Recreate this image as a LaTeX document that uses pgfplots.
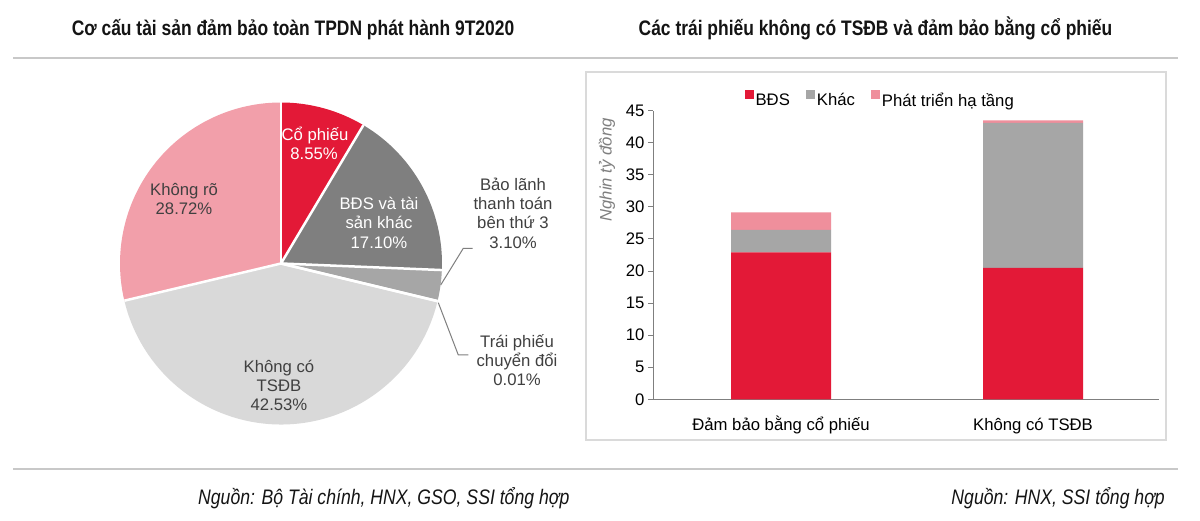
\documentclass[border=0pt]{standalone}
\usepackage{fontspec}
\setmainfont{Liberation Sans}
\newfontfamily\titlefont[FakeStretch=0.83]{Liberation Sans}
\newfontfamily\srcfont[FakeStretch=0.84]{Liberation Sans}
\usepackage{pgfplots}
\usepackage{pgfplotstable}
\pgfplotsset{compat=1.18}
\definecolor{cRed}{HTML}{E31937}
\definecolor{cDark}{HTML}{7F7F7F}
\definecolor{cMid}{HTML}{A6A6A6}
\definecolor{cLight}{HTML}{D9D9D9}
\definecolor{cPink}{HTML}{F29FAA}
\definecolor{cPinkBar}{HTML}{EF8F9C}
\definecolor{cGrayBar}{HTML}{A6A6A6}
\definecolor{cText}{HTML}{404040}
\definecolor{cTitle}{HTML}{141414}
\definecolor{cRule}{HTML}{C8C8C8}
\definecolor{cBox}{HTML}{DADADA}
\definecolor{cAxis}{HTML}{7F7F7F}
\newcommand\lf{\fontsize{16.7bp}{20bp}\selectfont}
\pgfplotsset{sqlegend/.style={legend image code/.code={\fill[##1] (0bp,1.5bp) rectangle (9bp,10.5bp);}}}

\pgfplotstableread{
value color
8.55 cRed
17.10 cDark
3.10 cMid
0.01 cMid
42.53 cLight
28.72 cPink
}\piedata

\pgfplotstableread{
x bds khac pt
0 22.9 3.5 2.75
1 20.5 22.6 0.4
}\bardata

\begin{document}
\begin{tikzpicture}[x=1bp,y=1bp]
\fill[white] (0,0) rectangle (1200,521);
\path[use as bounding box] (0,0) rectangle (1200,521);

% titles
\node[anchor=base, inner sep=0, text=cTitle, font=\titlefont\bfseries\fontsize{21bp}{24bp}\selectfont] at (293,485) {Cơ cấu tài sản đảm bảo toàn TPDN phát hành 9T2020};
\node[anchor=base, inner sep=0, text=cTitle, font=\titlefont\bfseries\fontsize{21bp}{24bp}\selectfont] at (875.5,485) {Các trái phiếu không có TSĐB và đảm bảo bằng cổ phiếu};
\draw[cRule, line width=2bp] (13,463.3) -- (1178,463.3);
\draw[cRule, line width=2bp] (13,52) -- (1178,52);
\node[anchor=base west, inner sep=0, text=cTitle, font=\srcfont\itshape\fontsize{21bp}{24bp}\selectfont] at (198,16) {Nguồn: Bộ Tài chính, HNX, GSO, SSI tổng hợp};
\node[anchor=base east, inner sep=0, text=cTitle, font=\srcfont\itshape\fontsize{21bp}{24bp}\selectfont] at (1165,16) {Nguồn: HNX, SSI tổng hợp};

% box of bar chart
\draw[cBox, line width=1.5bp] (586,449) rectangle (1166,81);

% pie
\begin{axis}[at={(281bp,257.5bp)}, anchor=center, scale only axis, width=322bp, height=322bp,
  xmin=-1, xmax=1, ymin=-1, ymax=1, hide axis, clip=false]
\def\angacc{90}
\pgfplotsforeachungrouped \i in {0,...,5}{%
  \pgfplotstablegetelem{\i}{value}\of\piedata
  \let\val\pgfplotsretval
  \pgfplotstablegetelem{\i}{color}\of\piedata
  \let\col\pgfplotsretval
  \pgfmathsetmacro\aend{\angacc-3.6*\val}
  \pgfmathsetmacro\xs{cos(\angacc)}
  \pgfmathsetmacro\ys{sin(\angacc)}
  \edef\temp{\noexpand\fill[\col] (axis cs:0,0) -- (axis cs:\xs,\ys) arc[start angle=\angacc, end angle=\aend, radius=161bp] -- cycle;}%
  \temp
  \let\angacc\aend
}
\def\angacc{90}
\pgfplotsforeachungrouped \i in {0,...,5}{%
  \pgfplotstablegetelem{\i}{value}\of\piedata
  \let\val\pgfplotsretval
  \pgfmathsetmacro\xs{cos(\angacc)}
  \pgfmathsetmacro\ys{sin(\angacc)}
  \edef\temp{\noexpand\draw[white, line width=2.5bp] (axis cs:0,0) -- (axis cs:\xs,\ys);}%
  \temp
  \pgfmathsetmacro\aend{\angacc-3.6*\val}
  \let\angacc\aend
}
\end{axis}

% pie labels
\begin{scope}[every node/.style={anchor=base, inner sep=0, font=\lf}]
\node[text=white] at (315,380) {Cổ phiếu};
\node[text=white] at (314,361) {8.55\%};
\node[text=white] at (379,311) {BĐS và tài};
\node[text=white] at (379,292) {sản khác};
\node[text=white] at (379,272) {17.10\%};
\node[text=cText] at (513,330) {Bảo lãnh};
\node[text=cText] at (513,311) {thanh toán};
\node[text=cText] at (513,292) {bên thứ 3};
\node[text=cText] at (513,272) {3.10\%};
\node[text=cText] at (517,173) {Trái phiếu};
\node[text=cText] at (517,154) {chuyển đổi};
\node[text=cText] at (517,135) {0.01\%};
\node[text=cText] at (184,325) {Không rõ};
\node[text=cText] at (184,306) {28.72\%};
\node[text=cText] at (279,148) {Không có};
\node[text=cText] at (279,129) {TSĐB};
\node[text=cText] at (279,110) {42.53\%};
\end{scope}
\draw[cAxis, line width=1bp] (440.7,236) -- (463.3,272.7) -- (472.7,272.7);
\draw[cAxis, line width=1bp] (438.3,218.3) -- (458.3,166) -- (468.3,166);

% bar chart
\begin{axis}[at={(653bp,121.7bp)}, anchor=south west, scale only axis,
  width=506bp, height=288.6bp,
  ybar stacked, bar width=100bp,
  xmin=-0.508, xmax=1.5, ymin=0, ymax=45,
  xtick={0,1}, xticklabels={Đảm bảo bằng cổ phiếu, Không có TSĐB},
  ytick={0,5,...,45},
  axis x line*=bottom, axis y line*=left,
  axis line style={-, draw=cAxis, line width=1bp},
  x tick style={draw=none},
  y tick style={draw=cAxis, line width=1bp},
  tick align=outside, major tick length=5bp,
  /pgf/number format/assume math mode=true,
  ticklabel style={font=\lf, text=black},
  xticklabel style={anchor=base, yshift=-26.4bp},
  yticklabel style={anchor=east},
  ylabel={Nghin tỷ đồng},
  ylabel style={at={(axis description cs:-0.091,0.795)}, anchor=center, font=\lf\itshape, text=cAxis},
  legend style={at={(axis description cs:0.449,1.037)}, anchor=center, draw=none, fill=none,
    font=\lf, legend columns=3, text=black,
    /tikz/every even column/.append style={column sep=14bp}},
  clip=false
]
\addplot[fill=cRed, draw=none, sqlegend] table[x=x, y=bds] {\bardata};
\addplot[fill=cGrayBar, draw=none, sqlegend] table[x=x, y=khac] {\bardata};
\addplot[fill=cPinkBar, draw=none, sqlegend] table[x=x, y=pt] {\bardata};
\legend{BĐS, Khác, Phát triển hạ tầng}
\end{axis}
\end{tikzpicture}
\end{document}
